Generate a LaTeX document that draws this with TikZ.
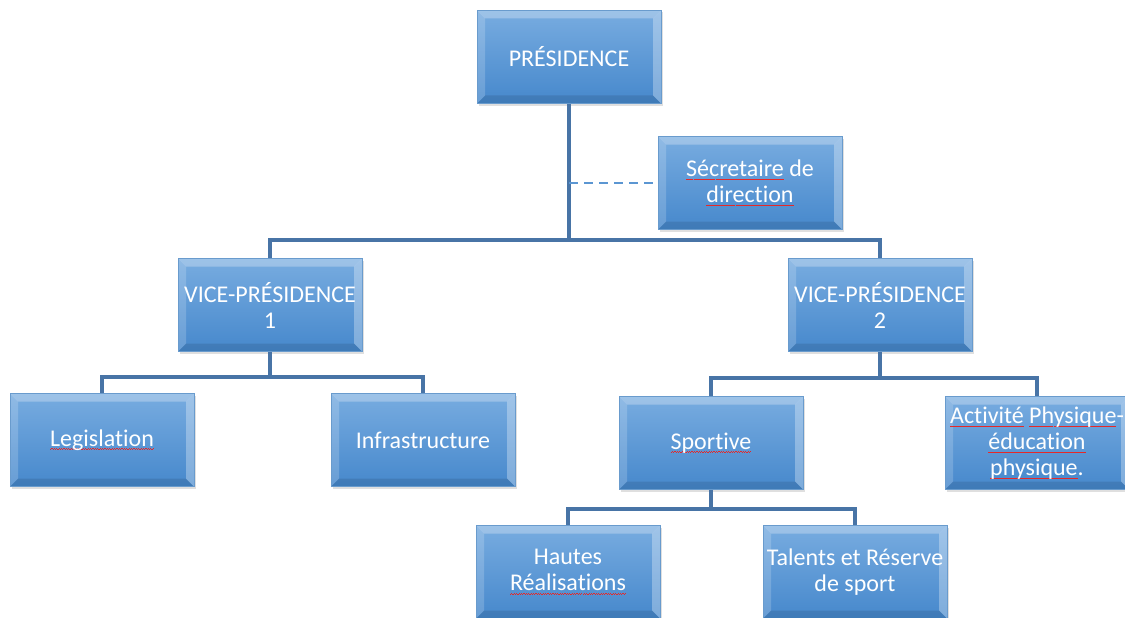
\documentclass[tikz,border=0pt]{standalone}
\usepackage{fontspec}
\setmainfont{Carlito}[Ligatures=NoCommon]
\usetikzlibrary{shadows}

\definecolor{boxtop}{RGB}{120,172,224}
\definecolor{boxbot}{RGB}{70,136,204}
\definecolor{boxedge}{RGB}{105,155,205}
\definecolor{linkblue}{RGB}{72,116,166}
\definecolor{dashblue}{RGB}{91,150,210}
\definecolor{spellred}{RGB}{230,40,40}

% red wavy mark under words flagged by the spell checker
\newcommand\sperr[1]{\setbox0\hbox{#1}\leavevmode\rlap{\color{spellred}\xleaders\hbox{\rule[-3.6pt]{1.2pt}{0.75pt}\rule[-2.9pt]{1.2pt}{0.75pt}}\hskip\wd0}\box0\relax}

\tikzset{
  orgbox/.style={rectangle, minimum width=184pt, minimum height=93pt, inner sep=0pt,
    top color=boxtop, bottom color=boxbot, draw=boxedge, line width=0.8pt,
    text=white, align=center, font=\fontsize{24}{26}\selectfont,
    drop shadow={shadow xshift=2pt, shadow yshift=-2pt, opacity=0.25},
    path picture={
      % bevel: light top and left, darker bottom and right
      \fill[white,opacity=.28] (path picture bounding box.north west) -- (path picture bounding box.north east)
        -- ([xshift=-8pt,yshift=-8pt]path picture bounding box.north east) -- ([xshift=8pt,yshift=-8pt]path picture bounding box.north west) -- cycle;
      \fill[white,opacity=.18] (path picture bounding box.north west) -- ([xshift=8pt,yshift=-8pt]path picture bounding box.north west)
        -- ([xshift=8pt,yshift=8pt]path picture bounding box.south west) -- (path picture bounding box.south west) -- cycle;
      \fill[black,opacity=.10] (path picture bounding box.south west) -- (path picture bounding box.south east)
        -- ([xshift=-8pt,yshift=8pt]path picture bounding box.south east) -- ([xshift=8pt,yshift=8pt]path picture bounding box.south west) -- cycle;
      \fill[white,opacity=.30] (path picture bounding box.north east) -- ([xshift=-8pt,yshift=-8pt]path picture bounding box.north east)
        -- ([xshift=-8pt,yshift=8pt]path picture bounding box.south east) -- (path picture bounding box.south east) -- cycle;
    }},
  link/.style={draw=linkblue, line width=3.2pt},
  assist/.style={draw=dashblue, line width=2pt, dash pattern=on 9pt off 6pt}
}

\begin{document}
\begin{tikzpicture}[x=1pt,y=-1pt]
    \useasboundingbox[fill=white] (0,0) rectangle (1125,618);

    % top level
    \node[orgbox] (pres) at (569,57) {PRÉSIDENCE};
    \node[orgbox] (sec) at (750,183) {\sperr{Sécretaire} de\\ \sperr{direction}};

    % vice-presidencies
    \node[orgbox] (vp1) at (270,305) {VICE-PRÉSIDENCE\\ 1};
    \node[orgbox] (vp2) at (880,305) {VICE-PRÉSIDENCE\\ 2};

    % departments
    \node[orgbox] (leg) at (102,440) {\sperr{Legislation}};
    \node[orgbox] (infra) at (423,440) {Infrastructure};
    \node[orgbox] (sport) at (711,443) {\sperr{Sportive}};
    \node[orgbox] (apep) at (1037,443) {\sperr{Activité} \sperr{Physique}-\\ \sperr{éducation}\\ \sperr{physique}.};

    % sport sections
    \node[orgbox] (hautes) at (568,572) {Hautes\\ \sperr{Réalisations}};
    \node[orgbox] (talents) at (855,572) {Talents et Réserve\\ de sport};

    % bus points
    \coordinate (presbus) at (569,240);
    \coordinate (vp1bus) at (270,377);
    \coordinate (vp2bus) at (880,378);
    \coordinate (sportbus) at (711,509);

    % connectors
    \draw[link] (pres.south) -- (presbus);
    \draw[link] (presbus) -| (vp1.north);
    \draw[link] (presbus) -| (vp2.north);
    \draw[assist] (pres.south |- sec.west) -- (sec.west);

    \draw[link] (vp1.south) -- (vp1bus);
    \draw[link] (vp1bus) -| (leg.north);
    \draw[link] (vp1bus) -| (infra.north);

    \draw[link] (vp2.south) -- (vp2bus);
    \draw[link] (vp2bus) -| (sport.north);
    \draw[link] (vp2bus) -| (apep.north);

    \draw[link] (sport.south) -- (sportbus);
    \draw[link] (sportbus) -| (hautes.north);
    \draw[link] (sportbus) -| (talents.north);
\end{tikzpicture}
\end{document}
